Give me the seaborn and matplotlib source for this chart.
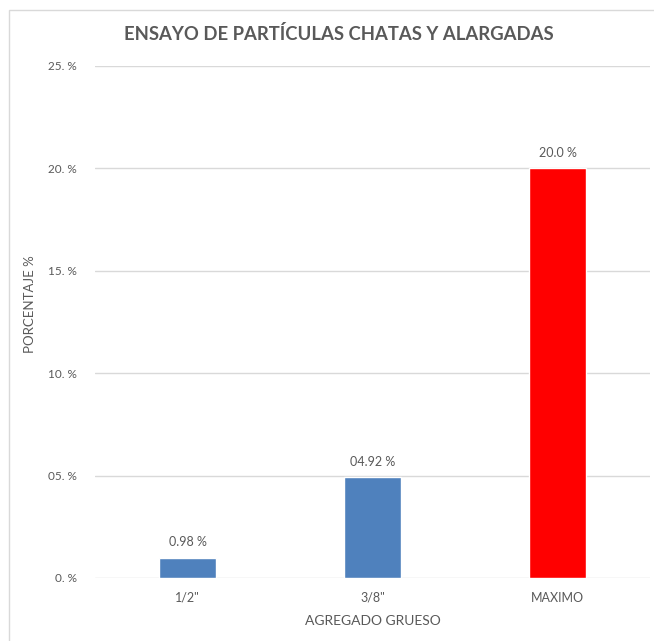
import matplotlib
matplotlib.use("Agg")
import matplotlib.pyplot as plt
import seaborn as sns
from matplotlib.patches import Rectangle

categories = ['1/2"', '3/8"', 'MAXIMO']
values = [0.98, 4.92, 20.0]
value_labels = ["0.98 %", "04.92 %", "20.0 %"]
bar_colors = ["#4F81BD", "#4F81BD", "#FF0000"]
y_ticks = [0, 5, 10, 15, 20, 25]
y_tick_labels = ["0. %", "05. %", "10. %", "15. %", "20. %", "25. %"]

sns.set_theme(style="white")
plt.rcParams['font.family'] = ['Lato', 'DejaVu Sans']
txt = "#595959"

fig = plt.figure(figsize=(6.54, 6.41), dpi=100)
ax = fig.add_axes([95/654, 63/641, 555/654, 512/641])

sns.barplot(x=categories, y=values, hue=categories, palette=bar_colors,
            width=0.31, legend=False, ax=ax, saturation=1)

ax.set_ylim(0, 25)
ax.set_xlim(-0.5, 2.5)
ax.set_yticks(y_ticks)
ax.set_yticklabels(y_tick_labels, color=txt, fontsize=8.5)
ax.tick_params(axis='y', length=0, pad=13)
ax.tick_params(axis='x', length=0, pad=10, labelsize=9, labelcolor=txt)
ax.yaxis.grid(True, color="#D9D9D9", linewidth=1)
ax.set_axisbelow(True)
for s in ax.spines.values():
    s.set_visible(False)

for p, lab in zip(ax.patches, value_labels):
    ax.annotate(lab, (p.get_x() + p.get_width() / 2, p.get_height()),
                xytext=(0, 7), textcoords="offset points", ha="center", va="bottom",
                color=txt, fontsize=9)

ax.set_xlabel("AGREGADO GRUESO", color=txt, fontsize=10, labelpad=8)
ax.set_ylabel("")
fig.text(30/654, 1 - 304/641, "PORCENTAJE %", rotation=90, color=txt, fontsize=9.5,
         ha="center", va="center")

fig.text(339/654, 1 - 34/641, "ENSAYO DE PARTÍCULAS CHATAS Y ALARGADAS",
         color=txt, fontsize=13.3, fontweight="bold", ha="center", va="center")

fig.patches.append(Rectangle((9/654, -0.1), 1.2, 1.1 - 10/641,
                             transform=fig.transFigure, fill=False,
                             edgecolor="#D9D9D9", linewidth=1))

fig.savefig("out.png", dpi=100, facecolor="white")
